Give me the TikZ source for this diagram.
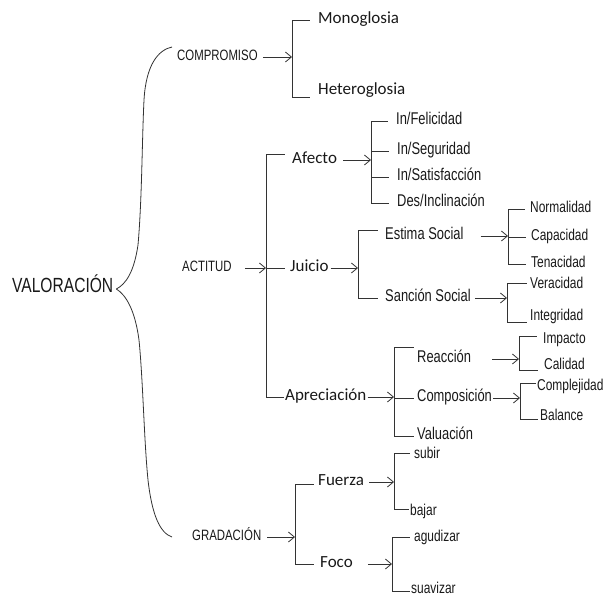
\documentclass[tikz,border=0pt]{standalone}
\usepackage{fontspec}
\setmainfont{Liberation Sans}[FakeStretch=0.76]
\newfontfamily\calfont{Carlito}
\usetikzlibrary{arrows.meta, positioning, calc}

\begin{document}
\begin{tikzpicture}[
    x=1pt, y=-1pt,
    every node/.style={anchor=west, inner sep=1pt, text=black!90, text height=0.72em, text depth=0pt},
    root/.style={font=\fontsize{20.5}{24}\selectfont},
    cat/.style={font=\fontsize{15}{17}\selectfont},
    big/.style={font=\calfont\fontsize{17}{20}\selectfont, text height=0.64em},
    mid/.style={font=\fontsize{17}{20}\selectfont},
    leaf/.style={font=\fontsize{15.7}{18}\selectfont},
    line/.style={draw=black!80, line width=0.8pt, shorten >=4pt},
    arrow/.style={-{Straight Barb[length=6pt, width=10pt]}, draw=black!80, line width=0.8pt}
]
    \useasboundingbox (0,0) rectangle (605,599);

    % first levels
    \node (val) [root] at (11,289) {VALORACIÓN};
    \node (comp) [cat] at (176,57) {COMPROMISO};
    \node (act) [cat] at (181,268) {ACTITUD};
    \node (grad) [cat] at (191,537) {GRADACIÓN};

    \node (mono) [big] at (317,20) {Monoglosia};
    \node (hetero) [big] at (317,91) {Heteroglosia};
    \node (afecto) [big] at (291,160) {Afecto};
    \node (juicio) [big] at (289,268) {Juicio};
    \node (aprec) [big] at (284,397) {Apreciación};
    \node (fuerza) [big] at (317,482) {Fuerza};
    \node (foco) [big] at (319,564) {Foco};

    % actitud
    \node (fel) [mid] at (395,121) {In/Felicidad};
    \node (seg) [mid] at (396,151) {In/Seguridad};
    \node (sat) [mid] at (396,177) {In/Satisfacción};
    \node (des) [mid] at (396,203) {Des/Inclinación};
    \node (estima) [mid] at (384,236) {Estima Social};
    \node (sancion) [mid] at (384,298) {Sanción Social};
    \node (reac) [mid] at (416,359) {Reacción};
    \node (compo) [mid] at (416,398) {Composición};
    \node (valu) [mid] at (416,436) {Valuación};

    \node (norm) [leaf] at (529,209) {Normalidad};
    \node (capa) [leaf] at (530,237) {Capacidad};
    \node (tena) [leaf] at (530,264) {Tenacidad};
    \node (vera) [leaf] at (529,285) {Veracidad};
    \node (integ) [leaf] at (529,317) {Integridad};
    \node (impa) [leaf] at (542,340) {Impacto};
    \node (cali) [leaf] at (543,366) {Calidad};
    \node (comple) [leaf] at (536,387) {Complejidad};
    \node (bal) [leaf] at (539,417) {Balance};

    % gradacion
    \node (subir) [leaf] at (413,455) {subir};
    \node (bajar) [leaf] at (409,512) {bajar};
    \node (agud) [leaf] at (413,538) {agudizar};
    \node (suav) [leaf] at (410,590) {suavizar};

    % bracket points
    \coordinate (bComp) at (292,57);
    \coordinate (bAct) at (266,268);
    \coordinate (bGrad) at (295,537);
    \coordinate (bAfec) at (371,160);
    \coordinate (bJui) at (358,268);
    \coordinate (bApr) at (394,397);
    \coordinate (bEst) at (508,236);
    \coordinate (bSan) at (507,298);
    \coordinate (bReac) at (519,359);
    \coordinate (bCompo) at (520,398);
    \coordinate (bFuer) at (394,482);
    \coordinate (bFoco) at (392,564);
    \coordinate (bTop) at (172,47);
    \coordinate (bBot) at (172,537);

    % brace
    \draw [line, shorten >=0pt] ([xshift=2pt]val.east) .. controls (126,284) and (134,272) .. (138,245)
        .. controls (142,200) and (142,140) .. (144,100) .. controls (146,65) and (158,50) .. (bTop);
    \draw [line, shorten >=0pt] ([xshift=2pt]val.east) .. controls (126,295) and (135,310) .. (139,340)
        .. controls (143,380) and (144,440) .. (148,480) .. controls (152,515) and (160,533) .. (bBot);

    % arrows
    \draw [arrow] ([xshift=4pt]comp.east) -- (bComp);
    \draw [arrow] ([xshift=12pt]act.east) -- (bAct);
    \draw [arrow] ([xshift=5pt]grad.east) -- (bGrad);
    \draw [arrow] ([xshift=5pt]afecto.east) -- (bAfec);
    \draw [arrow] ([xshift=1pt]juicio.east) -- (bJui);
    \draw [arrow] ([xshift=0pt]aprec.east) -- (bApr);
    \draw [arrow] ([xshift=16pt]estima.east) -- (bEst);
    \draw [arrow] ([xshift=3pt]sancion.east) -- (bSan);
    \draw [arrow] ([xshift=20pt]reac.east) -- (bReac);
    \draw [arrow] ([xshift=0pt]compo.east) -- (bCompo);
    \draw [arrow] ([xshift=4pt]fuerza.east) -- (bFuer);
    \draw [arrow] ([xshift=14pt]foco.east) -- (bFoco);

    % brackets
    \draw [line, shorten >=7pt] (bComp) |- (mono.west);
    \draw [line, shorten >=7pt] (bComp) |- ($(hetero.west)+(0,6)$);
    \draw [line, shorten >=6pt] (bAct) |- ($(afecto.west)+(0,-6)$);
    \draw [line, shorten >=4pt] (bAct) |- (juicio.west);
    \draw [line, shorten >=0pt] (bAct) |- (aprec.west);
    \draw [line, shorten >=7pt] (bAfec) |- (fel.west);
    \draw [line, shorten >=7pt] (bAfec) |- (seg.west);
    \draw [line, shorten >=7pt] (bAfec) |- (sat.west);
    \draw [line, shorten >=7pt] (bAfec) |- (des.west);
    \draw [line, shorten >=6pt] (bJui) |- ($(estima.west)+(0,-6)$);
    \draw [line, shorten >=6pt] (bJui) |- (sancion.west);
    \draw [line, shorten >=4pt] (bEst) |- (norm.west);
    \draw [line, shorten >=4pt] (bEst) |- (capa.west);
    \draw [line, shorten >=4pt] (bEst) |- (tena.west);
    \draw [line, shorten >=2pt] (bSan) |- ($(vera.west)+(0,-2)$);
    \draw [line, shorten >=2pt] (bSan) |- ($(integ.west)+(0,5)$);
    \draw [line, shorten >=2pt] (bApr) |- ($(reac.west)+(0,-12)$);
    \draw [line, shorten >=2pt] (bApr) |- (compo.west);
    \draw [line, shorten >=2pt] (bApr) |- (valu.west);
    \draw [line, shorten >=5pt] (bReac) |- ($(impa.west)+(0,-4)$);
    \draw [line, shorten >=5pt] (bReac) |- ($(cali.west)+(0,4)$);
    \draw [line, shorten >=0pt] (bCompo) |- ($(comple.west)+(0,-4)$);
    \draw [line, shorten >=1pt] (bCompo) |- ($(bal.west)+(0,2)$);
    \draw [line, shorten >=3pt] (bGrad) |- ($(fuerza.west)+(0,2)$);
    \draw [line, shorten >=5pt] (bGrad) |- (foco.west);
    \draw [line, shorten >=3pt] (bFuer) |- ($(subir.west)+(0,-2)$);
    \draw [line, shorten >=0pt] (bFuer) |- ($(bajar.west)+(0,-3)$);
    \draw [line, shorten >=3pt] (bFoco) |- ($(agud.west)+(0,-1)$);
    \draw [line, shorten >=0pt] (bFoco) |- ($(suav.west)+(0,1)$);
\end{tikzpicture}
\end{document}
